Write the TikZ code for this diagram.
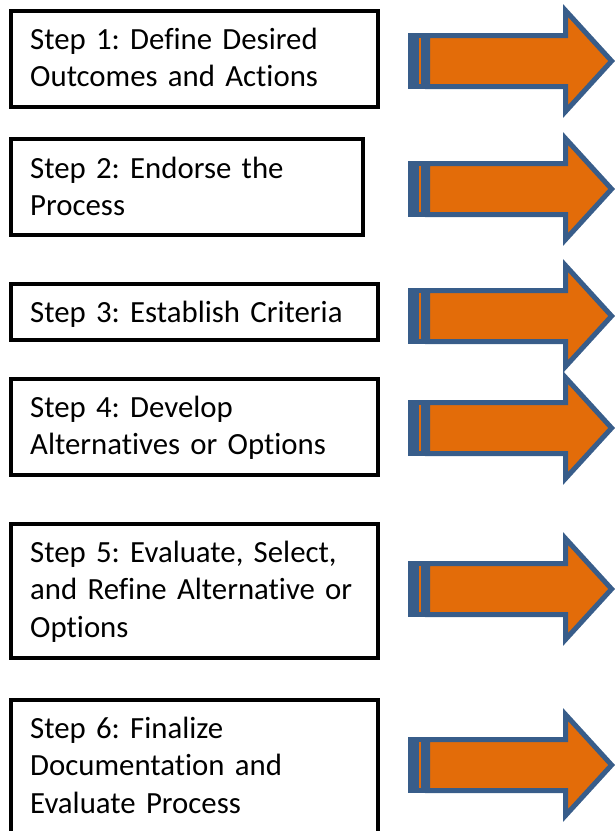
\documentclass[tikz,border=0pt]{standalone}
\usepackage{fontspec}
\setmainfont{Carlito}[Ligatures=NoCommon]
\definecolor{arrowfill}{HTML}{E36C09}
\definecolor{arrowline}{HTML}{385D8A}
\frenchspacing
\begin{document}
\begin{tikzpicture}[x=1pt,y=-1pt,
  stepbox/.style={draw=black, line width=4pt, rectangle, anchor=north west, inner sep=0pt, outer sep=0pt, minimum width=367pt},
  steptext/.style={anchor=base west, inner sep=0pt, text width=345pt, align=left, font=\fontsize{30.8}{37.5}\selectfont},
  steparrow/.pic={
    \fill[arrowline] (408,-28) rectangle (430,28);
    \draw[arrowline, fill=arrowfill, line width=5pt, line join=miter]
      (427.5,-25.5) -- (565.5,-25.5) -- (565.5,-50.5) -- (611.6,0) -- (565.5,50.5) -- (565.5,25.5) -- (427.5,25.5) -- cycle;
    \draw[arrowfill, line width=1.2pt] (420,-23) -- (420,23);
  }]
\useasboundingbox (0,0) rectangle (616,831);
\clip (0,0) rectangle (616,831);
% boxes
\node[stepbox, minimum height=96pt] (b1) at (11,11) {};
\node[stepbox, minimum height=96pt, minimum width=352pt] (b2) at (11,139) {};
\node[stepbox, minimum height=56pt] (b3) at (11,284) {};
\node[stepbox, minimum height=96pt] (b4) at (11,379) {};
\node[stepbox, minimum height=134pt] (b5) at (11,524) {};
\node[stepbox, minimum height=170pt] (b6) at (11,700) {};
% texts
\node[steptext] (t1) at (30,49) {Step 1: Define Desired\\Outcomes and Actions};
\node[steptext] (t2) at (30,178) {Step 2: Endorse the\\Process};
\node[steptext] (t3) at (30,322) {Step 3: Establish Criteria};
\node[steptext] (t4) at (30,417) {Step 4: Develop\\Alternatives or Options};
\node[steptext] (t5) at (30,562) {Step 5: Evaluate, Select,\\and Refine Alternative or\\Options};
\node[steptext] (t6) at (30,738) {Step 6: Finalize\\Documentation and\\Evaluate Process};
% arrows
\pic (a1) at (0,61) {steparrow};
\pic (a2) at (0,189) {steparrow};
\pic (a3) at (0,316) {steparrow};
\pic (a4) at (0,428) {steparrow};
\pic (a5) at (0,589) {steparrow};
\pic (a6) at (0,765) {steparrow};
\end{tikzpicture}
\end{document}
